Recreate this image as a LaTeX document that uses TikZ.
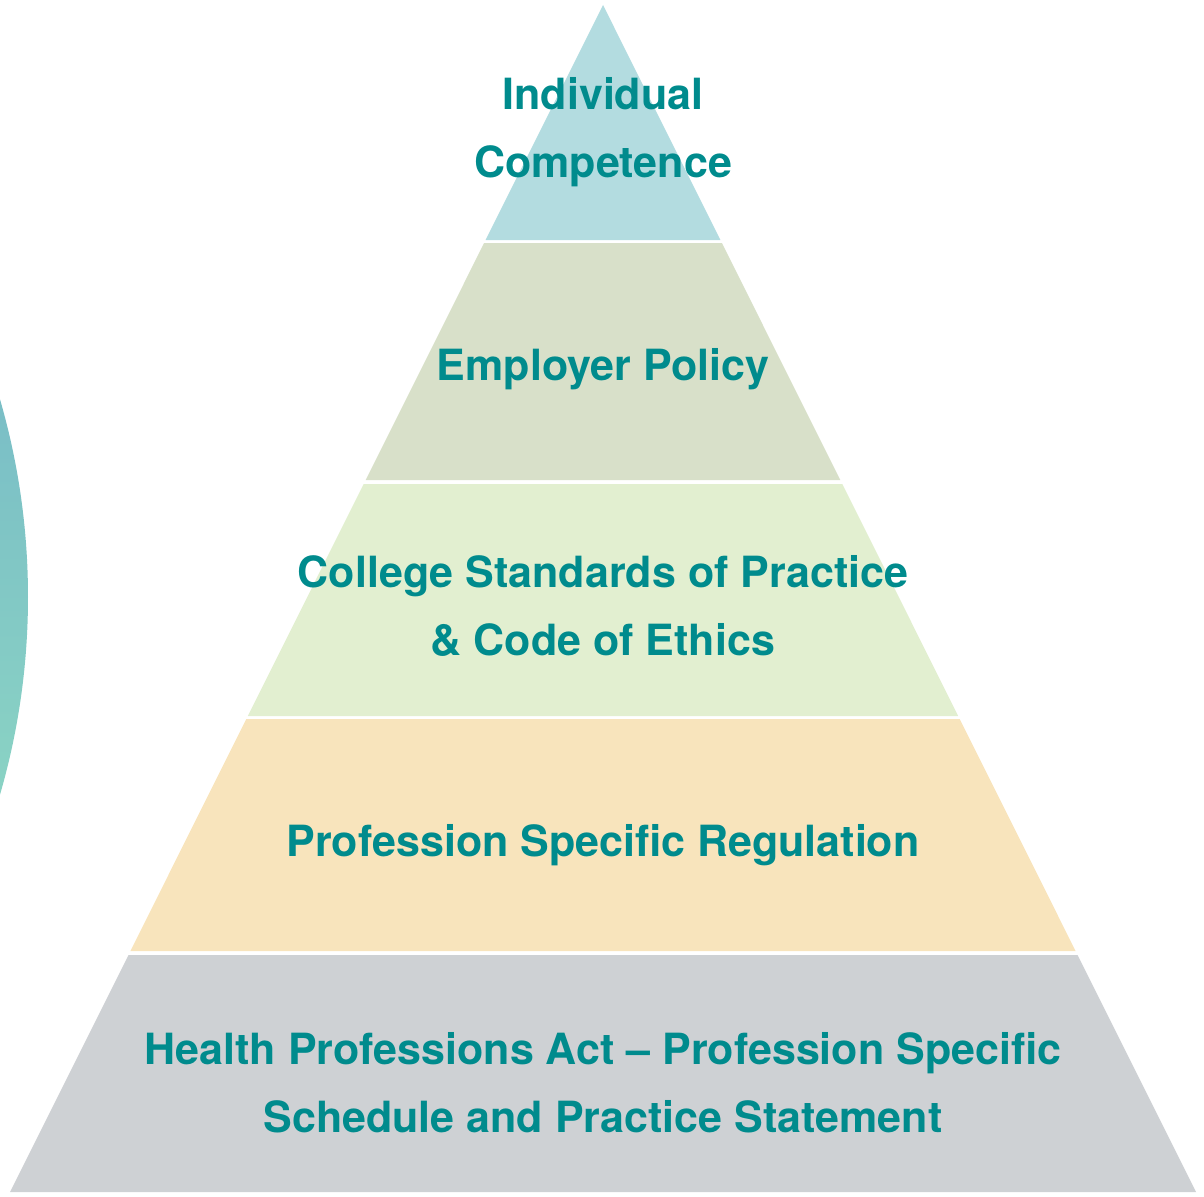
\documentclass[tikz,border=0pt]{standalone}
\usepackage{fontspec}
\setmainfont{TeX Gyre Heros}
\usetikzlibrary{positioning}
\definecolor{tealText}{RGB}{0,139,141}
\definecolor{tierOne}{RGB}{179,220,224}
\definecolor{tierTwo}{RGB}{216,224,201}
\definecolor{tierThree}{RGB}{226,239,208}
\definecolor{tierFour}{RGB}{248,228,188}
\definecolor{tierFive}{RGB}{206,209,212}
\definecolor{arcTop}{RGB}{122,190,198}
\definecolor{arcBottom}{RGB}{138,211,196}
\tikzset{
tier/.style={ % Sets the fill of each pyramid level
draw=none},
label/.style={ % Sets the text of each level
text=tealText,
font=\bfseries\fontsize{43}{68}\selectfont,
align=center,
inner sep=0pt}}

\begin{document}
\begin{tikzpicture}[x=1pt,y=-1pt]
\useasboundingbox (0,0) rectangle (1204,1196);
% arc on the left
\begin{scope}
\clip (-679,597) circle (707);
\shade[top color=arcTop, bottom color=arcBottom] (0,395) rectangle (40,800);
\end{scope}
% the levels
\fill[tier, tierOne] (603,5) -- (720.4,240) -- (485.6,240) -- cycle;
\fill[tier, tierTwo] (484.1,243) -- (721.9,243) -- (840.3,480) -- (365.7,480) -- cycle;
\fill[tier, tierThree] (363.7,484) -- (842.3,484) -- (958.2,716) -- (247.8,716) -- cycle;
\fill[tier, tierFour] (246.3,719) -- (959.7,719) -- (1075.6,951) -- (130.4,951) -- cycle;
\fill[tier, tierFive] (128.5,955) -- (1077.5,955) -- (1196,1192) -- (10,1192) -- cycle;
% the texts
\node[label] (indiv) at (603,132) {Individual\\Competence};
\node[label] (employer) at (603,369) {Employer Policy};
\node[label] (college) at (603,606) {College Standards of Practice\\\& Code of Ethics};
\node[label] (profession) at (603,845) {Profession Specific Regulation};
\node[label] (act) at (603,1083) {Health Professions Act – Profession Specific\\Schedule and Practice Statement};
\end{tikzpicture}
\end{document}
